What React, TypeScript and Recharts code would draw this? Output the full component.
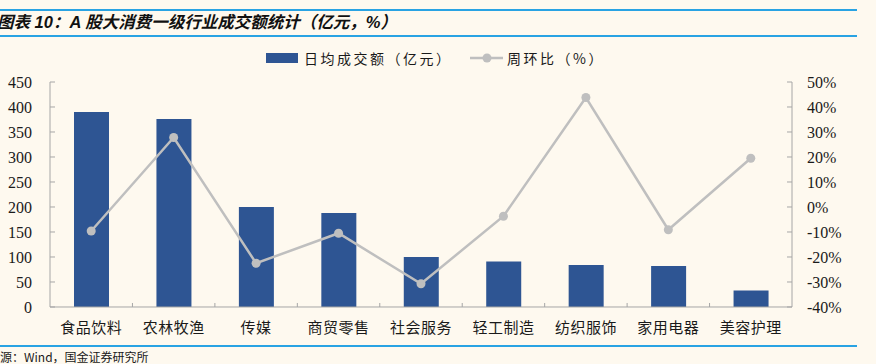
import { ComposedChart, Bar, Line, XAxis, YAxis } from 'recharts'

const categories = ['食品饮料', '农林牧渔', '传媒', '商贸零售', '社会服务', '轻工制造', '纺织服饰', '家用电器', '美容护理']
const turnover = [390, 376, 200, 188, 100, 91, 84, 82, 33]
const weekChange = [-9.6, 27.8, -22.5, -10.5, -30.7, -3.7, 43.8, -9.1, 19.5]
const leftTicks = [0, 50, 100, 150, 200, 250, 300, 350, 400, 450]
const rightTicks = [-40, -30, -20, -10, 0, 10, 20, 30, 40, 50]

const data = categories.map((name, i) => ({ name, turnover: turnover[i], change: weekChange[i] }))

const BG = '#FEF9EF'
const BAR = '#2E5593'
const LINE = '#BFBFBF'
const AXIS = '#A6A6A6'
const CJK = '"Noto Sans CJK SC", sans-serif'
const NUM = '"Liberation Serif", "Noto Sans CJK SC", serif'

const CategoryTick = (props: any) => {
  const { x, y, payload } = props
  const half = payload.offset ?? 41.2
  return (
    <g>
      {payload.index > 0 && (
        <line x1={x - half} x2={x - half} y1={y} y2={y - 4} stroke={AXIS} strokeWidth={1} />
      )}
      <text x={x} y={y + 26} textAnchor="middle" fontSize={15} fontFamily={CJK} fill="#1a1a1a" letterSpacing={0.5}>
        {payload.value}
      </text>
    </g>
  )
}

const App = () => {
  return (
    <div style={{ position: 'absolute', left: 0, top: 0, width: 876, height: 364, background: BG, overflow: 'hidden' }}>
      <div style={{ position: 'absolute', left: 0, top: 9, width: 857, height: 2, background: '#29A3E3' }} />
      <div style={{ position: 'absolute', left: 0, top: 35, width: 857, height: 2, background: '#29A3E3' }} />
      <div
        style={{
          position: 'absolute', left: -3, top: 11, whiteSpace: 'nowrap', fontSize: 16.5,
          fontWeight: 'bold', fontStyle: 'italic', fontFamily: '"Liberation Sans", ' + CJK, color: '#111',
          lineHeight: '22px',
        }}
      >
        图表 10：A 股大消费一级行业成交额统计（亿元，%）
      </div>

      <ComposedChart
        width={876}
        height={364}
        data={data}
        margin={{ top: 82, right: 0, bottom: 57, left: 0 }}
        style={{ position: 'absolute', left: 0, top: 0 }}
      >
        <XAxis
          dataKey="name"
          stroke={AXIS}
          tickLine={false}
          tickSize={0}
          tickMargin={0}
          interval={0}
          height={0.01}
          tick={<CategoryTick />}
        />
        <YAxis
          yAxisId="left"
          orientation="left"
          width={50}
          domain={[0, 450]}
          ticks={leftTicks}
          interval={0}
          stroke={AXIS}
          tickSize={-5}
          tickMargin={23}
          tick={{ fill: '#1a1a1a', fontSize: 16, fontFamily: NUM }}
        />
        <YAxis
          yAxisId="right"
          orientation="right"
          width={84}
          domain={[-40, 50]}
          ticks={rightTicks}
          interval={0}
          stroke={AXIS}
          tickSize={-5}
          tickMargin={20}
          tickFormatter={(v: number) => `${v}%`}
          tick={{ fill: '#1a1a1a', fontSize: 16, fontFamily: NUM }}
        />
        <Bar yAxisId="left" dataKey="turnover" fill={BAR} barSize={35} isAnimationActive={false} />
        <Line
          yAxisId="right"
          dataKey="change"
          type="linear"
          stroke={LINE}
          strokeWidth={2.5}
          dot={{ r: 4.5, fill: LINE, stroke: LINE, strokeWidth: 0 }}
          activeDot={false}
          isAnimationActive={false}
        />
      </ComposedChart>

      <div style={{ position: 'absolute', left: 266, top: 53, width: 32, height: 10, background: BAR }} />
      <div style={{ position: 'absolute', left: 304, top: 48, fontSize: 14, fontFamily: CJK, color: '#1a1a1a', lineHeight: '20px', letterSpacing: 2.5 }}>
        日均成交额（亿元）
      </div>
      <svg style={{ position: 'absolute', left: 470, top: 50 }} width={34} height={16}>
        <line x1={0} x2={33} y1={8} y2={8} stroke={LINE} strokeWidth={2.5} />
        <circle cx={17} cy={8} r={4.5} fill={LINE} />
      </svg>
      <div style={{ position: 'absolute', left: 507, top: 48, fontSize: 14, fontFamily: CJK, color: '#1a1a1a', lineHeight: '20px', letterSpacing: 2.5 }}>
        周环比（%）
      </div>

      <div style={{ position: 'absolute', left: 0, top: 345, width: 857, height: 2, background: '#29A3E3' }} />
      <div style={{ position: 'absolute', left: -12, top: 348, fontSize: 12, fontFamily: CJK, color: '#1a1a1a', lineHeight: '17px', whiteSpace: 'nowrap' }}>
        来源：Wind，国金证券研究所
      </div>
    </div>
  )
}

export default App
